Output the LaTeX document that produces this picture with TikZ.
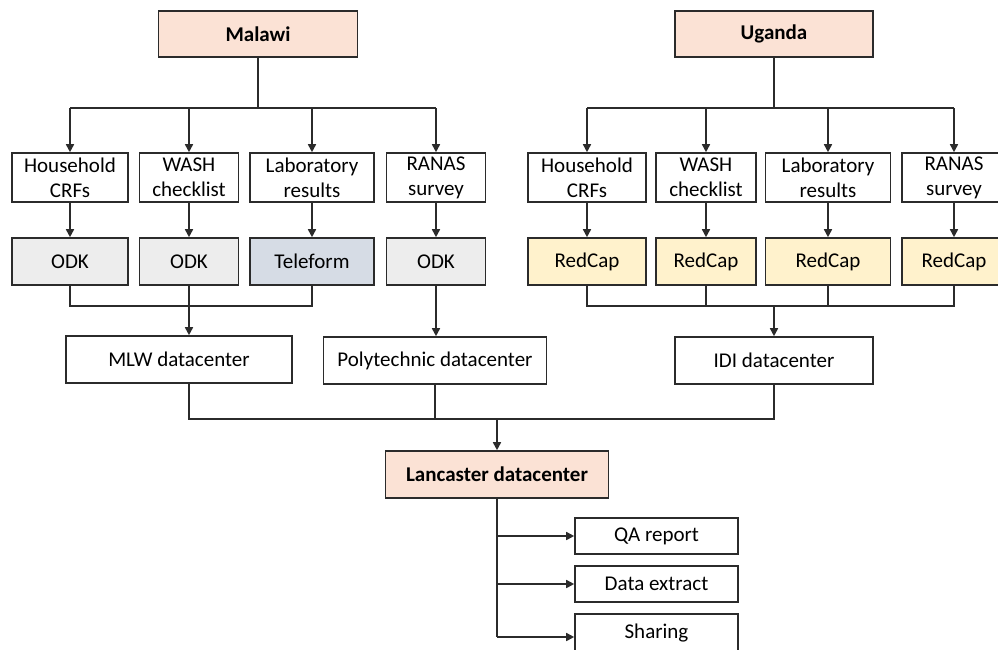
\documentclass[tikz,border=0pt]{standalone}
\usepackage{fontspec}
\setmainfont{Carlito}
\usetikzlibrary{arrows.meta}
\definecolor{peach}{HTML}{FBE2D5}
\definecolor{odkgray}{HTML}{EDEDED}
\definecolor{teleblue}{HTML}{D6DCE5}
\definecolor{redcapy}{HTML}{FFF2CC}
\definecolor{edge}{HTML}{2B2B2B}
\begin{document}
\begin{tikzpicture}[x=1pt,y=-1pt,
  box/.style={draw=edge,line width=1.6pt,rectangle,inner sep=0pt,align=center,
    font=\fontsize{21}{25}\selectfont},
  country/.style={box,fill=peach,font=\fontsize{21}{25}\selectfont\bfseries},
  odk/.style={box,fill=odkgray},
  tele/.style={box,fill=teleblue},
  redcap/.style={box,fill=redcapy},
  arr/.style={line width=1.6pt,draw=edge,-{Triangle[length=8pt,width=8pt]}},
  ln/.style={line width=1.6pt,draw=edge}]
\useasboundingbox (0,0) rectangle (998,649);
\clip (0,0) rectangle (998,649);

% ---------- Malawi ----------
\node[country,minimum width=199pt,minimum height=46pt] (malawi) at (258,34) {Malawi};
\node[box,minimum width=116pt,minimum height=49pt] (mh) at (70,177.5) {Household\\CRFs};
\node[box,minimum width=99pt,minimum height=49pt] (mw) at (189,177.5) {WASH\\checklist};
\node[box,minimum width=124pt,minimum height=49pt] (ml) at (312,177.5) {Laboratory\\results};
\node[box,minimum width=99pt,minimum height=49pt] (mr) at (436,177.5) {RANAS\\survey};
\node[odk,minimum width=116pt,minimum height=47pt] (mo1) at (70,261.5) {ODK};
\node[odk,minimum width=99pt,minimum height=47pt] (mo2) at (189,261.5) {ODK};
\node[tele,minimum width=124pt,minimum height=47pt] (mt) at (312,261.5) {Teleform};
\node[odk,minimum width=99pt,minimum height=47pt] (mo4) at (436,261.5) {ODK};
\node[box,minimum width=226pt,minimum height=47pt] (mlw) at (179,359.5) {MLW datacenter};
\node[box,minimum width=223pt,minimum height=47pt] (poly) at (435,360.5) {Polytechnic datacenter};

% ---------- Uganda ----------
\node[country,minimum width=198pt,minimum height=46pt] (uganda) at (774,34) {Uganda};
\node[box,minimum width=118pt,minimum height=49pt] (uh) at (587,177.5) {Household\\CRFs};
\node[box,minimum width=100pt,minimum height=49pt] (uw) at (706,177.5) {WASH\\checklist};
\node[box,minimum width=125pt,minimum height=49pt] (ul) at (828,177.5) {Laboratory\\results};
\node[box,minimum width=104pt,minimum height=49pt] (ur) at (954,177.5) {RANAS\\survey};
\node[redcap,minimum width=118pt,minimum height=47pt] (ur1) at (587,261.5) {RedCap};
\node[redcap,minimum width=100pt,minimum height=47pt] (ur2) at (706,261.5) {RedCap};
\node[redcap,minimum width=125pt,minimum height=47pt] (ur3) at (828,261.5) {RedCap};
\node[redcap,minimum width=104pt,minimum height=47pt] (ur4) at (954,261.5) {RedCap};
\node[box,minimum width=198pt,minimum height=47pt] (idi) at (774,360.5) {IDI datacenter};

% ---------- Lancaster ----------
\node[country,minimum width=223pt,minimum height=47pt] (lanc) at (497,474.5) {Lancaster datacenter};
\node[box,minimum width=163pt,minimum height=36pt] (qa) at (656.5,536) {QA report};
\node[box,minimum width=163pt,minimum height=36pt] (de) at (656.5,584) {Data extract};
\node[box,minimum width=163pt,minimum height=38pt] (sh) at (656.5,633) {Sharing};

% ---------- coordinates ----------
\coordinate (mbus) at (258,108);
\coordinate (mbr) at (189,306);
\coordinate (ubus) at (774,108);
\coordinate (ubr) at (774,306);
\coordinate (bb) at (497,419);
\coordinate (t3) at (497,637);

% ---------- Malawi connectors ----------
\draw[ln] (malawi.south) -- (mbus);
\draw[ln] (mh.north |- mbus) -- (mr.north |- mbus);
\foreach \n in {mh,mw,ml,mr} \draw[arr] (\n.north |- mbus) -- (\n.north);
\draw[arr] (mh) -- (mo1);
\draw[arr] (mw) -- (mo2);
\draw[arr] (ml) -- (mt);
\draw[arr] (mr) -- (mo4);
\draw[ln] (mo1.south) |- (mbr) -| (mt.south);
\draw[ln] (mo2.south) -- (mbr);
\draw[arr] (mbr) -- (mbr |- mlw.north);
\draw[arr] (mo4) -- (mo4 |- poly.north);

% ---------- Uganda connectors ----------
\draw[ln] (uganda.south) -- (ubus);
\draw[ln] (uh.north |- ubus) -- (ur.north |- ubus);
\foreach \n in {uh,uw,ul,ur} \draw[arr] (\n.north |- ubus) -- (\n.north);
\draw[arr] (uh) -- (ur1);
\draw[arr] (uw) -- (ur2);
\draw[arr] (ul) -- (ur3);
\draw[arr] (ur) -- (ur4);
\draw[ln] (ur1.south) |- (ubr) -| (ur4.south);
\draw[ln] (ur2.south) -- (ur2.south |- ubr);
\draw[ln] (ur3.south) -- (ur3.south |- ubr);
\draw[arr] (ubr) -- (idi.north);

% ---------- to Lancaster ----------
\draw[ln] (mbr |- mlw.south) |- (bb) -| (idi.south);
\draw[ln] (poly.south) -- (poly.south |- bb);
\draw[arr] (bb) -- (lanc.north);
\draw[ln] (lanc.south) -- (t3);
\draw[arr] (lanc.south |- qa.west) -- (qa.west);
\draw[arr] (lanc.south |- de.west) -- (de.west);
\draw[arr] (t3) -- (t3 -| sh.west);
\end{tikzpicture}
\end{document}
